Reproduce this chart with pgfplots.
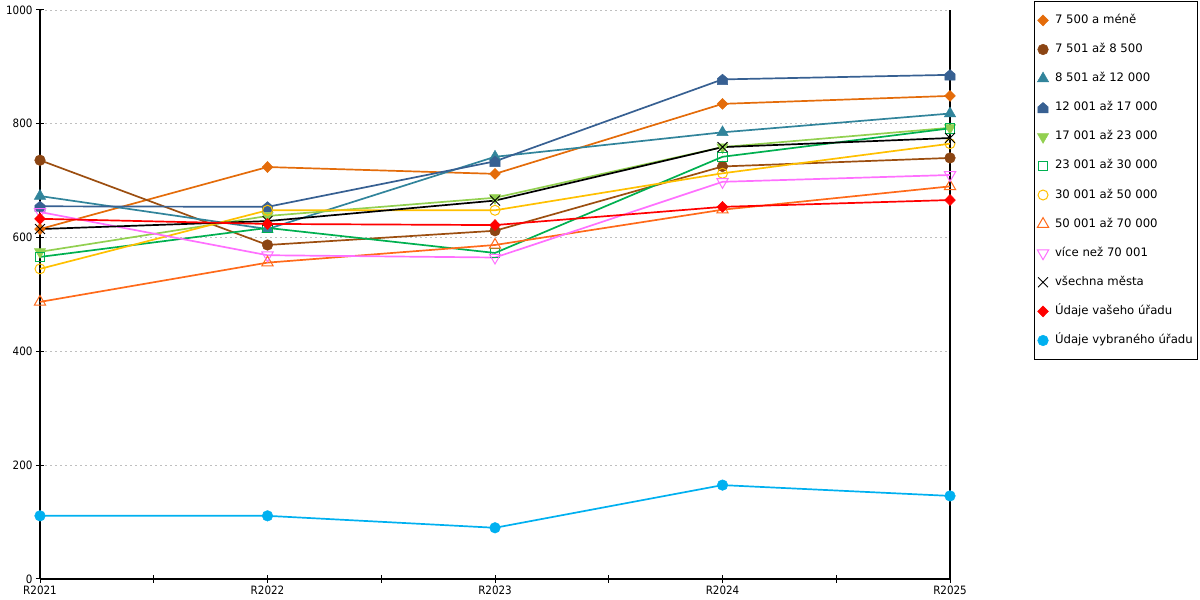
\documentclass[border=0pt]{standalone}
\usepackage{fontspec}
\setmainfont{DejaVu Sans}
\newfontfamily\condfont{DejaVu Sans Condensed}
\usepackage{pgfplots}
\pgfplotsset{compat=1.18}
\definecolor{c1}{HTML}{E46C0A}
\definecolor{c2}{HTML}{8B4513}
\definecolor{c3}{HTML}{31849B}
\definecolor{c4}{HTML}{376092}
\definecolor{c5}{HTML}{92D050}
\definecolor{c6}{HTML}{00B050}
\definecolor{c7}{HTML}{FFC000}
\definecolor{c8}{HTML}{FF6A1A}
\definecolor{c9}{HTML}{FF70FF}
\definecolor{c10}{HTML}{000000}
\definecolor{c11}{HTML}{FF0000}
\definecolor{c12}{HTML}{00B0F0}
\pgfdeclareplotmark{house*}{%
  \pgfpathmoveto{\pgfqpoint{0pt}{\pgfplotmarksize}}%
  \pgfpathlineto{\pgfqpoint{\pgfplotmarksize}{0.15\pgfplotmarksize}}%
  \pgfpathlineto{\pgfqpoint{\pgfplotmarksize}{-\pgfplotmarksize}}%
  \pgfpathlineto{\pgfqpoint{-\pgfplotmarksize}{-\pgfplotmarksize}}%
  \pgfpathlineto{\pgfqpoint{-\pgfplotmarksize}{0.15\pgfplotmarksize}}%
  \pgfpathclose\pgfusepathqfillstroke}
\begin{document}
\begin{tikzpicture}[x=1bp,y=1bp]
\useasboundingbox (0,0) rectangle (1200,600);
\begin{axis}[
  at={(40bp,21bp)}, anchor=south west,
  scale only axis, width=910bp, height=569bp,
  xmin=0, xmax=4, ymin=0, ymax=1000,
  clip=false,
  axis x line*=bottom, axis y line*=left,
  axis line style={black, line width=1.2bp},
  xtick={0,1,2,3,4},
  xticklabels={R2021,R2022,R2023,R2024,R2025},
  minor xtick={0.5,1.5,2.5,3.5},
  ytick={0,200,400,600,800,1000},
  tick align=center,
  major tick length=8bp, minor tick length=8bp,
  tick style={black, line width=1bp},
  ymajorgrids,
  major grid style={draw=black!25, line width=0.8bp, dash pattern=on 2bp off 3bp},
  tick label style={font=\condfont\fontsize{11.5bp}{13bp}\selectfont},
  /pgf/number format/assume math mode=true,
  /pgf/number format/1000 sep={},
  xticklabel style={yshift=1bp},
  every axis plot/.append style={line width=1.7bp},
  legend style={
    at={(1.0923,1.0158)}, anchor=north west,
    draw=black, line width=0.8bp,
    font=\fontsize{11.7bp}{14bp}\selectfont,
    inner xsep=3bp, inner ysep=11bp,
    row sep=13.1bp,
    nodes={text height=9bp, text depth=3bp, inner sep=2bp},
    cells={anchor=west},
  },
  legend image code/.code={\path[draw=none,fill=none] (0bp,0bp) -- (15bp,0bp);\draw[#1, line width=0.8bp] plot coordinates {(5bp,0bp)};},
]
\draw[black, line width=1.2bp] (rel axis cs:1,0) -- (rel axis cs:1,1);

\addplot[c1, mark=diamond*, mark size=5.5bp, mark options={xscale=1.3, fill=c1, line width=0.5bp}]
  coordinates {(0,615) (1,724) (2,712) (3,835) (4,849)};
\addlegendentry{7 500 a méně}

\addplot[c2!85!orange, mark=*, mark size=5.3bp, mark options={fill=c2, draw=c2, line width=0.5bp}]
  coordinates {(0,736) (1,587) (2,612) (3,725) (4,740)};
\addlegendentry{7 501 až 8 500}

\addplot[c3, mark=triangle*, mark size=6.5bp, mark options={fill=c3, line width=0.5bp}]
  coordinates {(0,673) (1,615) (2,742) (3,785) (4,818)};
\addlegendentry{8 501 až 12 000}

\addplot[c4, mark=house*, mark size=5.2bp, mark options={fill=c4, line width=0.5bp}]
  coordinates {(0,655) (1,654) (2,734) (3,878) (4,886)};
\addlegendentry{12 001 až 17 000}

\addplot[c5, mark=triangle*, mark size=6.5bp, mark options={rotate=180, fill=c5, line width=0.5bp}]
  coordinates {(0,575) (1,638) (2,670) (3,759) (4,793)};
\addlegendentry{17 001 až 23 000}

\addplot[c6, mark=square, mark size=4.7bp, mark options={line width=1bp}]
  coordinates {(0,566) (1,617) (2,573) (3,742) (4,792)};
\addlegendentry{23 001 až 30 000}

\addplot[c7, mark=o, mark size=5bp, mark options={line width=1bp}]
  coordinates {(0,545) (1,648) (2,648) (3,713) (4,765)};
\addlegendentry{30 001 až 50 000}

\addplot[c8, mark=triangle, mark size=6.5bp, mark options={line width=1bp}]
  coordinates {(0,487) (1,556) (2,587) (3,649) (4,690)};
\addlegendentry{50 001 až 70 000}

\addplot[c9, mark=triangle, mark size=6.5bp, mark options={rotate=180, line width=1bp}]
  coordinates {(0,645) (1,569) (2,565) (3,698) (4,710)};
\addlegendentry{více než 70 001}

\addplot[c10, mark=x, mark size=7bp, mark options={line width=0.9bp}]
  coordinates {(0,615) (1,629) (2,665) (3,759) (4,775)};
\addlegendentry{všechna města}

\addplot[c11, mark=diamond*, mark size=5.5bp, mark options={xscale=1.3, fill=c11, line width=0.5bp}]
  coordinates {(0,633) (1,624) (2,622) (3,654) (4,666)};
\addlegendentry{Údaje vašeho úřadu}

\addplot[c12, mark=*, mark size=5.3bp, mark options={fill=c12, line width=0.5bp}]
  coordinates {(0,111) (1,111) (2,90) (3,165) (4,146)};
\addlegendentry{Údaje vybraného úřadu}
\end{axis}
\end{tikzpicture}
\end{document}
